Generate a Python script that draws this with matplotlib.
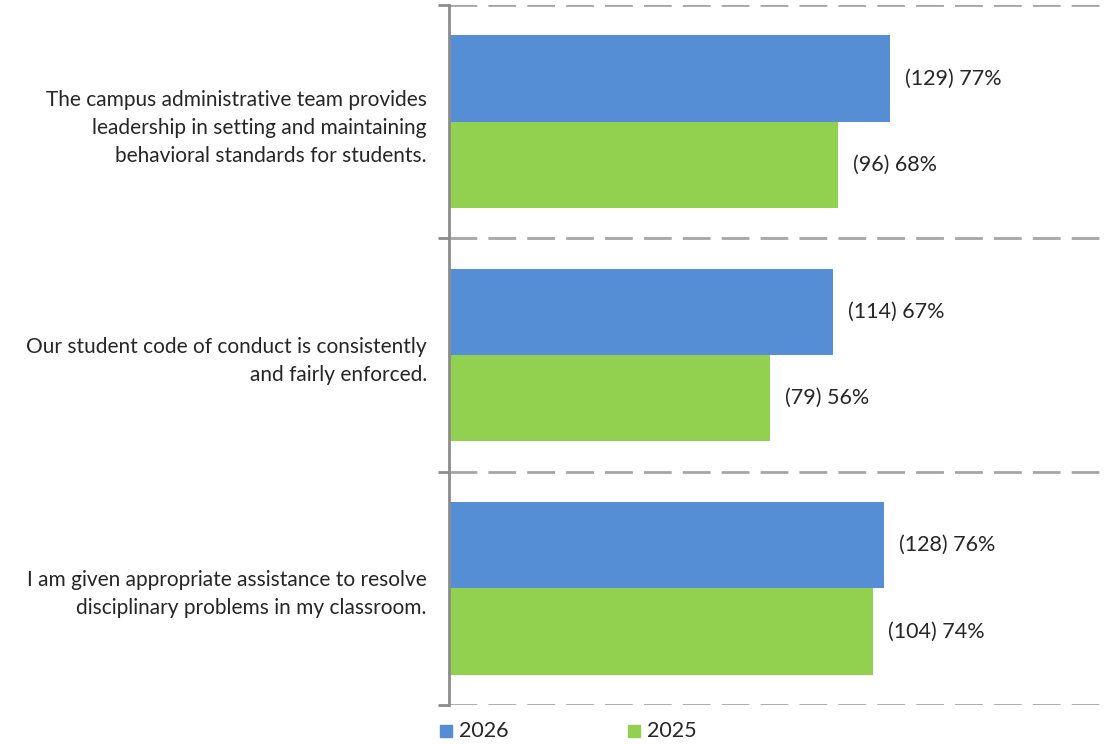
import matplotlib
matplotlib.use("Agg")
import matplotlib.pyplot as plt
from matplotlib.patches import Rectangle
import numpy as np

plt.rcParams['font.family'] = ['Lato', 'DejaVu Sans']

statements = [
    "The campus administrative team provides\nleadership in setting and maintaining\nbehavioral standards for students.",
    "Our student code of conduct is consistently\nand fairly enforced.",
    "I am given appropriate assistance to resolve\ndisciplinary problems in my classroom.",
]
series_names = ["2026", "2025"]
pct_2026 = [77, 67, 76]
pct_2025 = [68, 56, 74]
n_2026 = [129, 114, 128]
n_2025 = [96, 79, 104]

blue = "#558ED5"
green = "#92D050"
text_col = "#262626"

fig = plt.figure(figsize=(11.10, 7.44), dpi=100)
ax = fig.add_axes([449 / 1110, 1 - 705 / 744, 1 - 449 / 1110, 700 / 744])

y = np.arange(len(statements))
h = 0.37
ax.barh(y - h / 2, pct_2026, height=h, color=blue, label=series_names[0])
ax.barh(y + h / 2, pct_2025, height=h, color=green, label=series_names[1])

for yi, p, n in zip(y, pct_2026, n_2026):
    ax.text(p + 2.6, yi - h / 2, f"({n}) {p}%", va="center", ha="left",
            fontsize=15.5, color=text_col)
for yi, p, n in zip(y, pct_2025, n_2025):
    ax.text(p + 2.6, yi + h / 2, f"({n}) {p}%", va="center", ha="left",
            fontsize=15.5, color=text_col)

ax.set_xlim(0, 115.4)
ax.set_ylim(len(statements) - 0.5, -0.5)

# dashed separators between statements
for b in np.arange(-0.5, len(statements)):
    ax.axhline(b, color="#A6A6A6", lw=2, ls=(0, (10, 4)), zorder=0)

ax.set_yticks(np.arange(-0.5, len(statements)))
ax.set_yticklabels([])
ax.tick_params(axis="y", length=8, width=2, color="#8C8C8C")
ax.set_yticks(y, minor=True)
ax.set_yticklabels(statements, minor=True, fontsize=15, color=text_col,
                   ha="right", linespacing=1.5)
ax.tick_params(axis="y", which="minor", length=0, pad=16)
ax.set_xticks([])

for s in ["top", "right", "bottom"]:
    ax.spines[s].set_visible(False)
ax.spines["left"].set_color("#8C8C8C")
ax.spines["left"].set_linewidth(2)

# legend along the bottom edge
for xpos, col, name in [(440, blue, series_names[0]), (628, green, series_names[1])]:
    fig.patches.append(Rectangle((xpos / 1110, 1 - 737 / 744), 12 / 1110, 12 / 744,
                                 transform=fig.transFigure, color=col))
    fig.text((xpos + 19) / 1110, 1 - 731 / 744, name, va="center", ha="left",
             fontsize=15.5, color=text_col)

fig.savefig("out.png", dpi=100)
